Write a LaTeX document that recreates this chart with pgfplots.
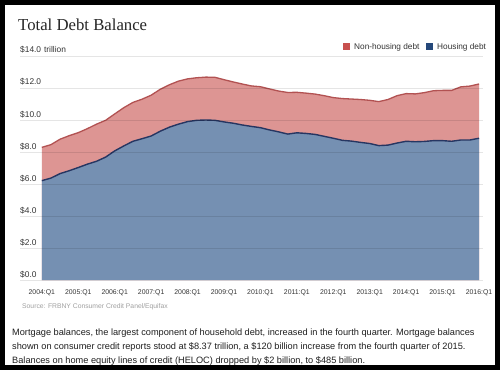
\documentclass[border=0pt]{standalone}
\usepackage{pgfplots}
\usepackage{pgfplotstable}
\pgfplotsset{compat=1.18}
\usepackage{fontspec}
\setmainfont{Liberation Sans}
\newfontfamily\ttlfont{Liberation Serif}

\definecolor{redfill}{RGB}{221,149,147}
\definecolor{redline}{RGB}{178,82,82}
\definecolor{bluefill}{RGB}{117,144,178}
\definecolor{blueline}{RGB}{38,54,98}
\definecolor{legred}{RGB}{200,80,78}
\definecolor{legblue}{RGB}{37,72,122}
\definecolor{txt}{RGB}{51,51,51}
\definecolor{srcgray}{RGB}{160,160,160}

\pgfplotstableread{
q total housing
0 8.29 6.21
1 8.46 6.37
2 8.80 6.65
3 9.02 6.83
4 9.21 7.03
5 9.46 7.24
6 9.74 7.42
7 9.98 7.68
8 10.38 8.07
9 10.77 8.38
10 11.10 8.67
11 11.30 8.83
12 11.55 9.00
13 11.92 9.30
14 12.20 9.55
15 12.43 9.74
16 12.57 9.90
17 12.64 9.98
18 12.68 10.00
19 12.67 9.98
20 12.52 9.88
21 12.38 9.80
22 12.25 9.69
23 12.13 9.60
24 12.08 9.52
25 11.94 9.38
26 11.81 9.26
27 11.72 9.12
28 11.73 9.20
29 11.68 9.16
30 11.62 9.10
31 11.52 8.98
32 11.40 8.86
33 11.34 8.73
34 11.31 8.68
35 11.28 8.60
36 11.23 8.53
37 11.15 8.40
38 11.28 8.43
39 11.52 8.56
40 11.65 8.67
41 11.63 8.64
42 11.71 8.66
43 11.83 8.71
44 11.85 8.71
45 11.85 8.67
46 12.07 8.75
47 12.12 8.75
48 12.25 8.86
}\debt

\begin{document}
\begin{tikzpicture}[x=1bp,y=1bp]
\fill[black] (0,0) rectangle (500,370);
\fill[white] (5,5) rectangle (494.5,365);
\begin{axis}[
  at={(20bp,90bp)}, anchor=south west,
  scale only axis, width=463bp, height=224bp,
  xmin=-2.4, xmax=48.44, ymin=0, ymax=14,
  axis line style={draw=none}, tick style={draw=none},
  ymajorgrids, major grid style={black, opacity=0.1, line width=0.8bp},
  axis on top,
  xtick={0,4,...,48},
  xticklabels={2004:Q1,2005:Q1,2006:Q1,2007:Q1,2008:Q1,2009:Q1,2010:Q1,2011:Q1,2012:Q1,2013:Q1,2014:Q1,2015:Q1,2016:Q1},
  xticklabel style={font=\fontsize{6.9}{8}\selectfont, text=txt, yshift=-6.5bp},
  ytick={0,2,...,14},
  yticklabels={\$0.0,\$2.0,\$4.0,\$6.0,\$8.0,\$10.0,\$12.0,\$14.0\hspace{3bp}trillion},
  yticklabel style={anchor=base west, inner sep=0pt, yshift=3bp, font=\fontsize{8.4}{10}\selectfont, text=txt},
]
\addplot[fill=redfill, draw=none] table[x=q, y=total]{\debt} \closedcycle;
\addplot[fill=bluefill, draw=none] table[x=q, y=housing]{\debt} \closedcycle;
\addplot[redline, line width=1.3bp] table[x=q, y=total]{\debt};
\addplot[blueline, line width=1.4bp] table[x=q, y=housing]{\debt};
\end{axis}
% title
\node[anchor=base west, inner sep=0pt, text=black!85] at (18,340) {\ttlfont\fontsize{16.8}{20}\selectfont Total Debt Balance};
% legend
\fill[legred] (343,320) rectangle (350,327);
\node[anchor=base west, inner sep=0pt, text=txt, font=\fontsize{8.3}{10}\selectfont] at (354,320.5) {Non-housing debt};
\fill[legblue] (426,320) rectangle (433,327);
\node[anchor=base west, inner sep=0pt, text=txt, font=\fontsize{8.3}{10}\selectfont] at (437,320.5) {Housing debt};
% source
\node[anchor=base west, inner sep=0pt, text=srcgray, font=\fontsize{6.8}{8}\selectfont] at (22,62) {Source: FRBNY Consumer Credit Panel/Equifax};
% paragraph
\begin{scope}[every node/.style={anchor=base west, inner sep=0pt, text=black!88, font=\fontsize{9.25}{11}\selectfont}]
\node at (12,34.5) {Mortgage balances, the largest component of household debt, increased in the fourth quarter. Mortgage balances};
\node at (12,21) {shown on consumer credit reports stood at \$8.37 trillion, a \$120 billion increase from the fourth quarter of 2015.};
\node at (12,6.5) {Balances on home equity lines of credit (HELOC) dropped by \$2 billion, to \$485 billion.};
\end{scope}
\fill[black] (0,0) rectangle (500,5);
\end{tikzpicture}
\end{document}
